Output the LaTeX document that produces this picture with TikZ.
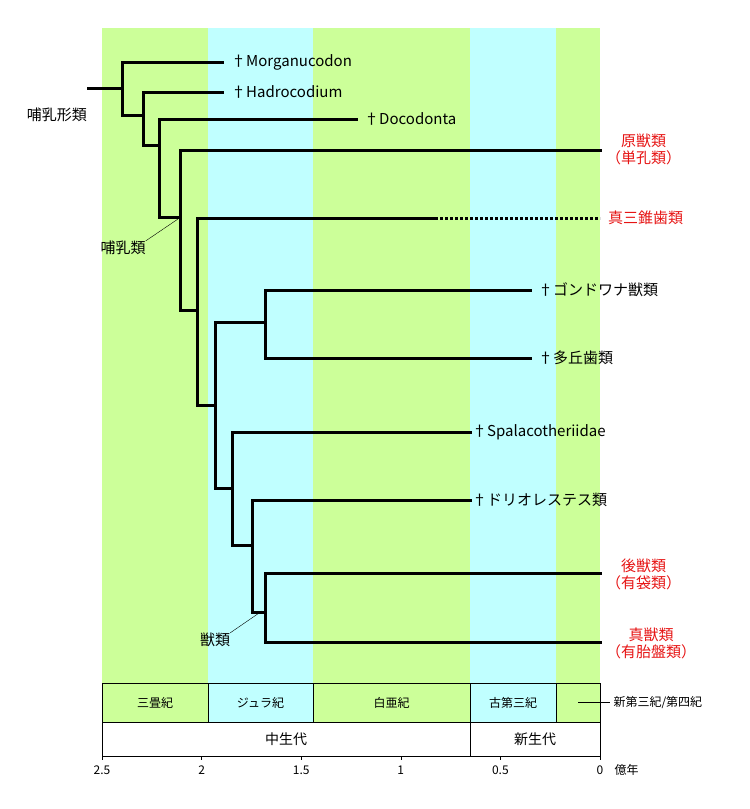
\documentclass[tikz,border=0pt]{standalone}
\usepackage{fontspec}
\setmainfont{Noto Sans CJK JP}
\begin{document}
\begin{tikzpicture}[x=1pt,y=-1pt,
 br/.style={line width=3pt,line cap=rect},
 lab/.style={anchor=west,font=\fontsize{15}{17}\selectfont,inner sep=0pt},
 red/.style={lab,text={rgb,255:red,230;green,20;blue,20},align=center,anchor=west},
 per/.style={font=\fontsize{12}{14}\selectfont},
 era/.style={font=\fontsize{14}{16}\selectfont}]
\definecolor{gr}{RGB}{204,255,153}
\definecolor{cy}{RGB}{192,255,255}
\useasboundingbox (0,0) rectangle (750,809);
% bands
\fill[gr] (102,28) rectangle (208,683);
\fill[cy] (208,28) rectangle (313,683);
\fill[gr] (313,28) rectangle (470,683);
\fill[cy] (470,28) rectangle (556,683);
\fill[gr] (556,28) rectangle (600,683);
% period boxes
\draw[fill=gr] (102,683) rectangle node[per]{三畳紀} (208,722);
\draw[fill=cy] (208,683) rectangle node[per]{ジュラ紀} (313,722);
\draw[fill=gr] (313,683) rectangle node[per]{白亜紀} (470,722);
\draw[fill=cy] (470,683) rectangle node[per]{古第三紀} (556,722);
\draw[fill=gr] (556,683) rectangle (600,722);
\node[per,anchor=west] (ng) at (610,702) {新第三紀/第四紀};
\draw (578,702) -- (ng.west);
\draw (102,722) rectangle node[era]{中生代} (470,756);
\draw (470,722) rectangle node[era]{新生代} (600,756);
% axis
\draw (102,756) -- (600,756);
\foreach \v/\x in {2.5/102,2/201.6,1.5/301.2,1/400.8,0.5/500.4,0/600}{
 \draw (\x,756) -- (\x,760);
 \node[per] at (\x,770) {\v};}
\node[per,anchor=west] at (611,770) {億年};
% tree
\draw[br] (88,88) -- (122,88);
\draw[br] (222,62) -- (122,62) -- (122,115) -- (143,115);
\draw[br] (222,92) -- (143,92) -- (143,145) -- (159,145);
\draw[br] (356,119) -- (159,119) -- (159,217) -- (180,217);
\draw[br] (600,150) -- (180,150) -- (180,310) -- (197,310);
\draw[br] (435,218) -- (197,218) -- (197,405) -- (215,405);
\draw[line width=3pt,dotted] (435,218) -- (600,218);
\draw[br] (215,488) -- (215,322) -- (265,322);
\draw[br] (530,290) -- (265,290) -- (265,358) -- (530,358);
\draw[br] (215,405) -- (215,488) -- (232,488);
\draw[br] (470,432) -- (232,432) -- (232,545) -- (252,545);
\draw[br] (470,500) -- (252,500) -- (252,612) -- (265,612);
\draw[br] (600,573) -- (265,573) -- (265,642) -- (600,642);
% labels
\node[lab] (m) at (231,62) {†Morganucodon};
\node[lab] (h) at (231,92) {†Hadrocodium};
\node[lab] (d) at (364,119) {†Docodonta};
\node[lab] (g) at (538,290) {†ゴンドワナ獣類};
\node[lab] (t) at (538,358) {†多丘歯類};
\node[lab] (s) at (472,432) {†Spalacotheriidae};
\node[lab] (dr) at (472,500) {†ドリオレステス類};
\node[red] (p) at (606,149) {原獣類\\（単孔類）};
\node[red] (e) at (608,218) {真三錐歯類};
\node[red] (mt) at (606,574) {後獣類\\（有袋類）};
\node[red] (eu) at (606,643) {真獣類\\（有胎盤類）};
\node[lab,anchor=center] (mf) at (57,115) {哺乳形類};
\node[lab,anchor=center] (ma) at (123,248) {哺乳類};
\node[lab,anchor=center] (th) at (215,640) {獣類};
\draw (ma.north east) -- (178,219);
\draw (th.north east) -- (262,611);
\end{tikzpicture}
\end{document}
